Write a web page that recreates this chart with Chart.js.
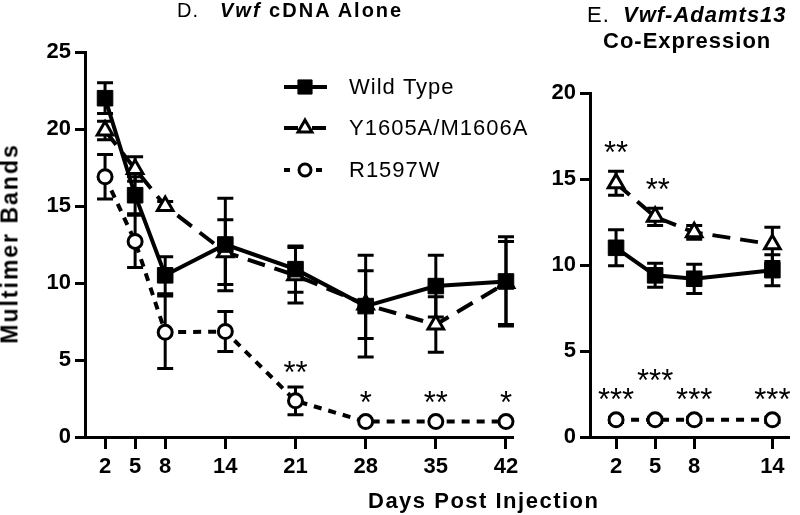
<!DOCTYPE html>
<html>
<head>
<meta charset="utf-8">
<script src="https://cdn.jsdelivr.net/npm/chart.js@4.4.1/dist/chart.umd.min.js"></script>
<style>
  body { margin: 0; background: #fff; }
  #wrap { position: relative; width: 800px; height: 515px; background: #fff; overflow: hidden; }
  canvas { position: absolute; top: 0; }
  .t { position: absolute; white-space: nowrap; font-family: "Liberation Sans", Arial, sans-serif; color: #000; line-height: 1; }
</style>
</head>
<body>
<div id="wrap">
  <canvas id="left" width="540" height="515" style="left:0"></canvas>
  <canvas id="right" width="260" height="515" style="left:540px"></canvas>

  <div class="t" style="left:177px;top:0;font-size:20px;letter-spacing:1px">D.</div>
  <div class="t" style="left:220px;top:0;font-size:20px;font-weight:bold;letter-spacing:2px"><i>Vwf</i> cDNA Alone</div>

  <div class="t" style="left:587px;top:4px;font-size:22px;letter-spacing:1px">E.</div>
  <div class="t" style="left:623px;top:4px;font-size:22px;font-weight:bold;font-style:italic;letter-spacing:1px">Vwf-Adamts13</div>
  <div class="t" style="left:603px;top:30px;font-size:22px;font-weight:bold;letter-spacing:1px">Co-Expression</div>

  <div class="t" style="left:-110px;top:232px;width:240px;height:23px;text-align:center;transform:rotate(-90deg);font-size:23px;font-weight:bold;letter-spacing:2px">Multimer Bands</div>
  <div class="t" style="left:368px;top:490px;font-size:22px;font-weight:bold;letter-spacing:1.5px">Days Post Injection</div>
</div>

<script>
// --- panel D: Vwf cDNA alone ---
const daysD = [2, 5, 8, 14, 21, 28, 35, 42];
const wtD = [22.0, 15.7, 10.5, 12.5, 10.9, 8.5, 9.8, 10.1];
const wtDErr = [1.0, 1.2, 1.2, 3.0, 1.5, 3.3, 2.0, 2.9];
const mutD = [19.9, 17.4, 15.0, 12.0, 10.5, 8.6, 7.3, 10.0];
const mutDErr = [0.6, 0.8, 0.3, 2.1, 1.8, 2.2, 1.8, 2.7];
const rD = [16.9, 12.7, 6.8, 6.85, 2.35, 1.0, 1.0, 1.0];
const rDErr = [1.45, 1.7, 2.35, 1.3, 0.9, 0, 0, 0];
const starsD = ['**', '*', '**', '*'];
const starDaysD = [21, 28, 35, 42];
const starValsD = [4.7, 2.7, 2.7, 2.7];

// --- panel E: Vwf-Adamts13 co-expression ---
const daysE = [2, 5, 8, 14];
const wtE = [11.0, 9.4, 9.2, 9.7];
const wtEErr = [1.05, 0.7, 0.85, 0.9];
const mutE = [14.75, 12.8, 11.9, 11.2];
const mutEErr = [0.7, 0.5, 0.4, 1.0];
const rE = [1.0, 1.0, 1.0, 1.0];
const rEErr = [0.15, 0.15, 0.15, 0.15];
const starsE = ['**', '**', '***', '***', '***', '***'];
const starDaysE = [2, 5.2, 2, 5, 8, 14];
const starValsE = [17.0, 14.8, 2.6, 3.7, 2.6, 2.6];

const seriesNames = ['Wild Type', 'Y1605A/M1606A', 'R1597W'];

const FONT = '"Liberation Sans", Arial, sans-serif';

const styles = [
  { pointStyle: 'rect', pointRadius: 11, fill: '#000', dash: [], pointBorderWidth: 1 },
  { pointStyle: 'triangle', pointRadius: 9, fill: '#fff', dash: [18, 10], pointBorderWidth: 3 },
  { pointStyle: 'circle', pointRadius: 7, fill: '#fff', dash: [8, 7], pointBorderWidth: 3 },
];

function makeSets(days, vals, errs) {
  return vals.map((v, k) => ({
    label: seriesNames[k],
    data: days.map((d, i) => ({ x: d, y: v[i] })),
    errors: errs[k],
    borderColor: '#000',
    borderWidth: 4,
    borderDash: styles[k].dash,
    pointStyle: styles[k].pointStyle,
    pointRadius: styles[k].pointRadius,
    pointBackgroundColor: styles[k].fill,
    pointBorderColor: '#000',
    pointBorderWidth: styles[k].pointBorderWidth,
    tension: 0,
    clip: false,
    order: k, // wild type drawn on top
  }));
}

const errorBars = {
  id: 'errorBars',
  beforeDatasetsDraw(chart) {
    const { ctx, scales: { x, y } } = chart;
    ctx.save();
    ctx.strokeStyle = '#000';
    ctx.lineWidth = 3;
    ctx.setLineDash([]);
    chart.data.datasets.forEach(ds => {
      ds.data.forEach((p, i) => {
        const e = ds.errors[i];
        if (!e) return;
        const px = x.getPixelForValue(p.x);
        const top = y.getPixelForValue(p.y + e);
        const bot = y.getPixelForValue(p.y - e);
        ctx.beginPath();
        ctx.moveTo(px, top); ctx.lineTo(px, bot);
        ctx.moveTo(px - 8, top); ctx.lineTo(px + 8, top);
        ctx.moveTo(px - 8, bot); ctx.lineTo(px + 8, bot);
        ctx.stroke();
      });
    });
    ctx.restore();
  }
};

function starPlugin(texts, days, vals) {
  return {
    id: 'stars',
    afterDraw(chart) {
      const { ctx, scales: { x, y } } = chart;
      ctx.save();
      ctx.fillStyle = '#000';
      ctx.font = '31px ' + FONT;
      ctx.textAlign = 'center';
      ctx.textBaseline = 'alphabetic';
      texts.forEach((t, i) => {
        ctx.fillText(t, x.getPixelForValue(days[i]), y.getPixelForValue(vals[i]) + 0.58 * 31);
      });
      ctx.restore();
    }
  };
}

const legendRows = [87, 128, 170];
const legendBox = {
  id: 'legendBox',
  afterDraw(chart) {
    const ctx = chart.ctx;
    ctx.save();
    chart.data.datasets.forEach((ds, k) => {
      const yy = legendRows[k];
      ctx.strokeStyle = '#000';
      ctx.lineWidth = 4;
      ctx.setLineDash(styles[k].dash.length ? (k === 1 ? [14, 14] : [6, 26]) : []);
      ctx.beginPath();
      ctx.moveTo(284, yy); ctx.lineTo(327, yy);
      ctx.stroke();
      ctx.setLineDash([]);
      ctx.fillStyle = styles[k].fill;
      ctx.lineWidth = styles[k].pointBorderWidth;
      Chart.helpers.drawPoint(ctx, {
        pointStyle: styles[k].pointStyle,
        radius: styles[k].pointRadius - 1,
        borderWidth: styles[k].pointBorderWidth,
        rotation: 0
      }, 305, yy);
      ctx.fillStyle = '#000';
      ctx.font = '22px ' + FONT;
      ctx.letterSpacing = '1px';
      ctx.textAlign = 'left';
      ctx.textBaseline = 'middle';
      ctx.fillText(ds.label, 349, yy + 1);
    });
    ctx.restore();
  }
};

function axisOpts(min, max, width, height, tickList, stepSize, isX) {
  const o = {
    type: 'linear',
    min, max,
    ticks: {
      color: '#000',
      font: { size: 22, weight: 'bold', family: FONT },
      padding: isX ? 5 : 4,
      maxRotation: 0,
      autoSkip: false,
    },
    grid: {
      display: true,
      drawOnChartArea: false,
      drawTicks: true,
      tickLength: isX ? 12 : 10,
      tickWidth: 3,
      tickColor: '#000',
      color: '#000',
      lineWidth: 3,
    },
    border: { display: true, width: 3, color: '#000' },
  };
  if (isX) {
    o.afterBuildTicks = s => { s.ticks = tickList.map(v => ({ value: v })); };
    o.afterFit = s => { s.height = height; };
  } else {
    o.ticks.stepSize = stepSize;
    o.afterFit = s => { s.width = width; };
  }
  return o;
}

new Chart(document.getElementById('left'), {
  type: 'line',
  data: { datasets: makeSets(daysD, [wtD, mutD, rD], [wtDErr, mutDErr, rDErr]) },
  options: {
    responsive: false,
    animation: false,
    devicePixelRatio: 1,
    layout: { padding: { top: 52, right: 28, left: 0, bottom: 0 } },
    plugins: { legend: { display: false }, tooltip: { enabled: false } },
    scales: {
      x: axisOpts(0, 42.6, 0, 78, daysD, null, true),
      y: axisOpts(0, 25, 85, 0, null, 5, false),
    },
  },
  plugins: [errorBars, starPlugin(starsD, starDaysD, starValsD), legendBox],
});

new Chart(document.getElementById('right'), {
  type: 'line',
  data: { datasets: makeSets(daysE, [wtE, mutE, rE], [wtEErr, mutEErr, rEErr]) },
  options: {
    responsive: false,
    animation: false,
    devicePixelRatio: 1,
    layout: { padding: { top: 93, right: 0, left: 0, bottom: 0 } },
    plugins: { legend: { display: false }, tooltip: { enabled: false } },
    scales: {
      x: axisOpts(0, 15.2, 0, 78, daysE, null, true),
      y: axisOpts(0, 20, 50, 0, null, 5, false),
    },
  },
  plugins: [errorBars, starPlugin(starsE, starDaysE, starValsE)],
});
</script>
</body>
</html>
